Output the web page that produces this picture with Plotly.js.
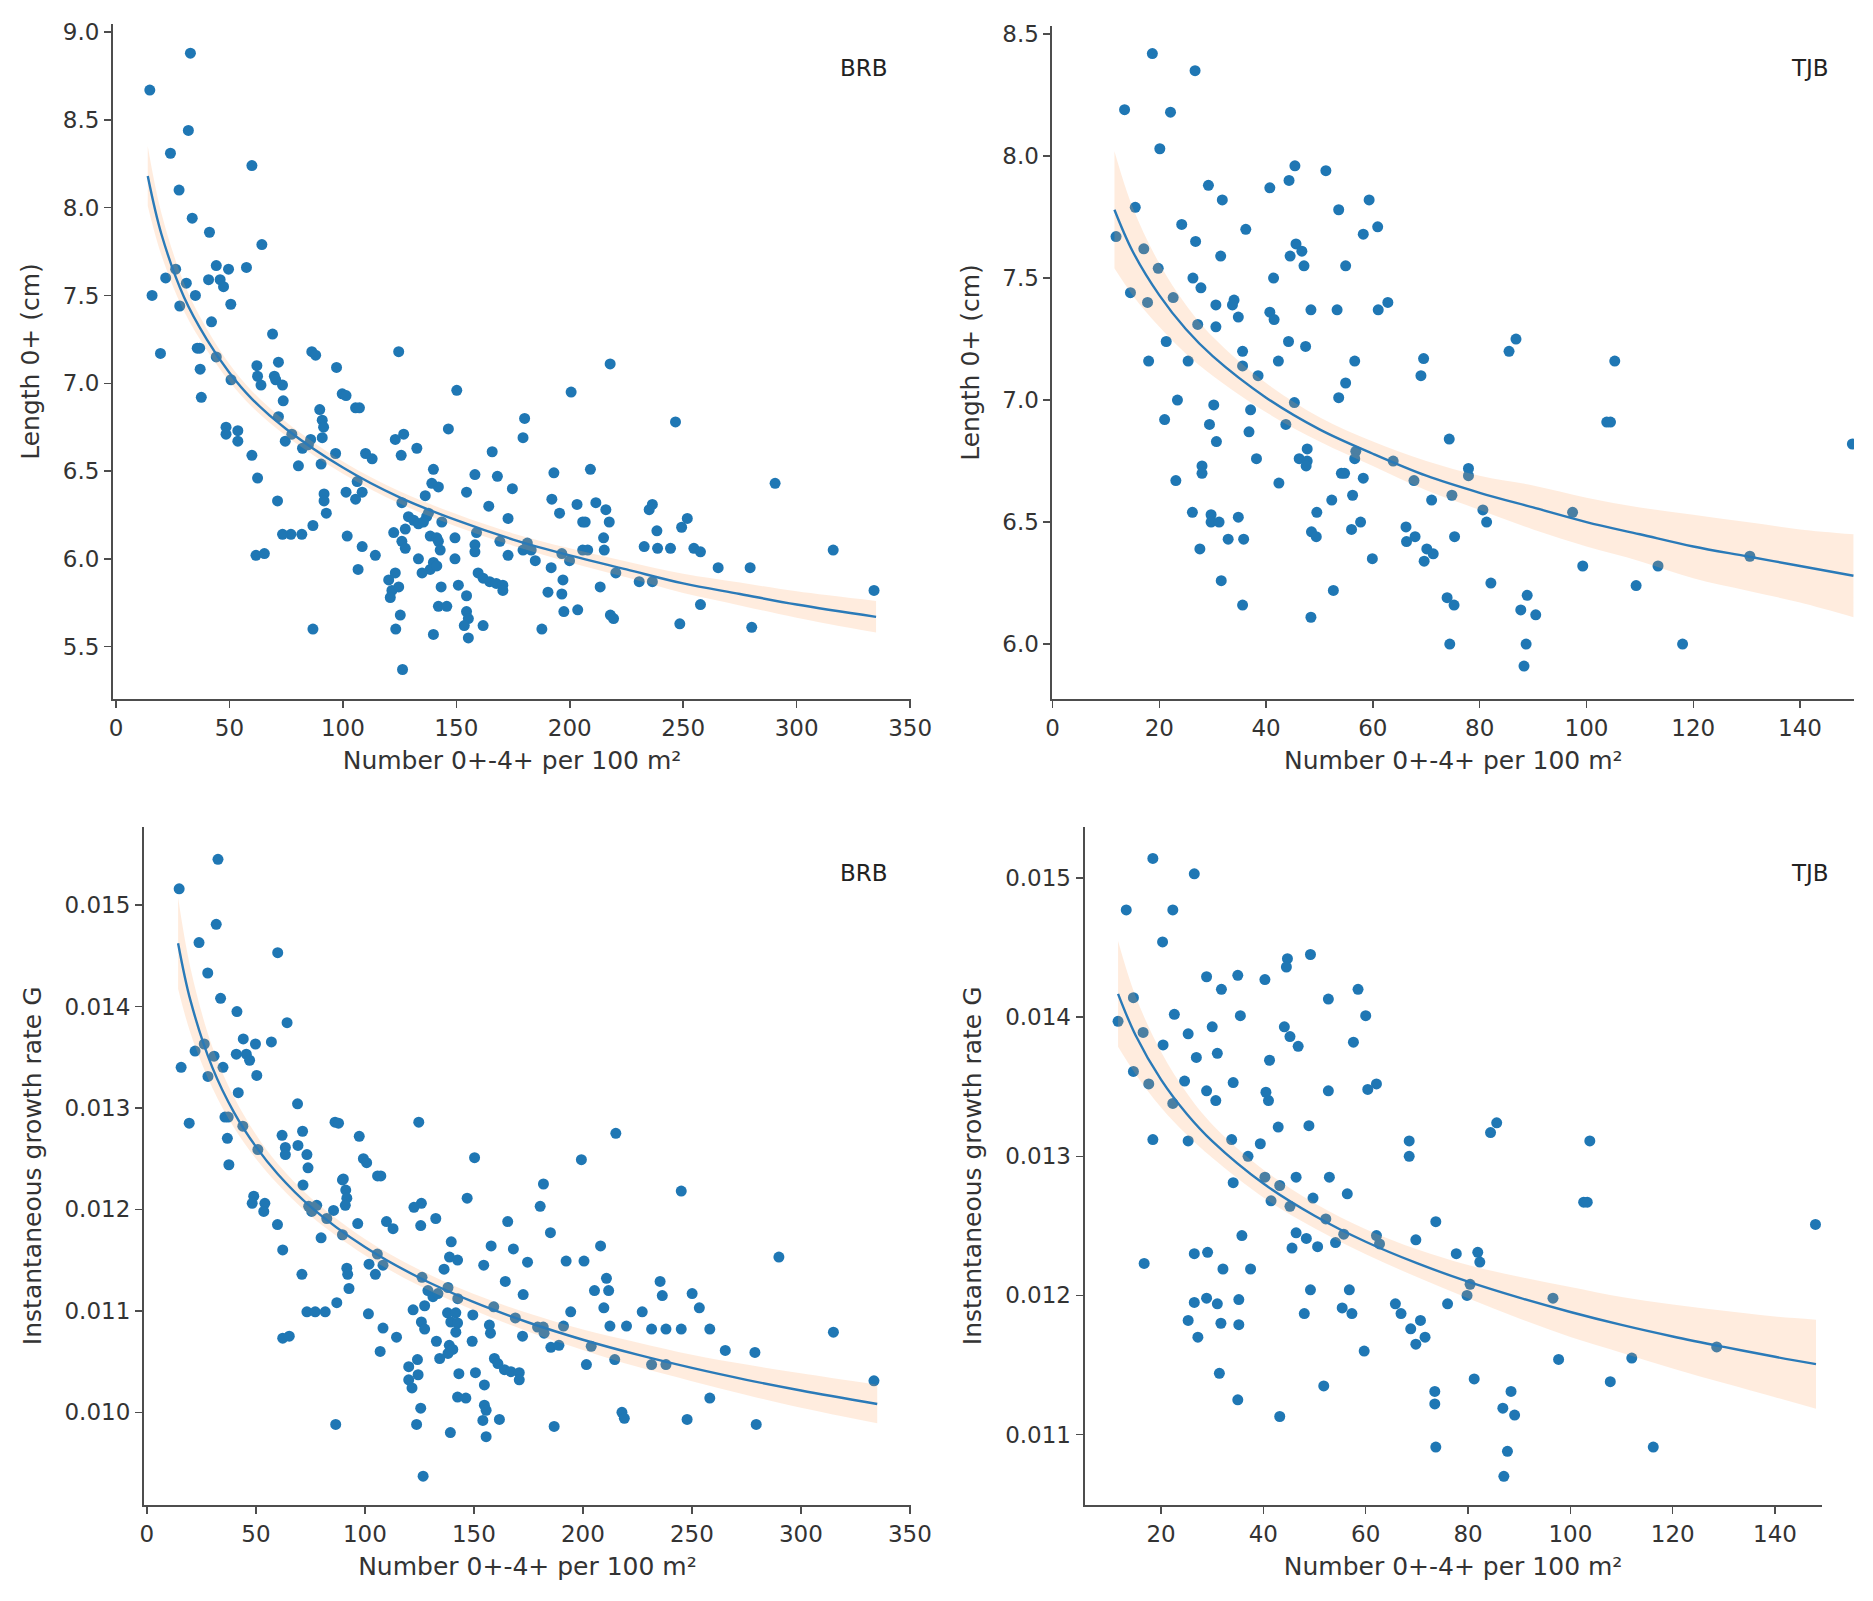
<!DOCTYPE html>
<html>
<head>
<meta charset="utf-8">
<script src="https://cdn.plot.ly/plotly-3.0.1.min.js"></script>
<style>
  html, body { margin: 0; padding: 0; background: #ffffff; }
  #chart { width: 1873px; height: 1601px; }
</style>
</head>
<body>
<div id="chart"></div>
<script>
// ---------------- Data ----------------
const panelLabels = ["BRB", "TJB", "BRB", "TJB"];
const xTitle = "Number 0+-4+ per 100 m²";
const yTitleLength = "Length 0+ (cm)";
const yTitleGrowth = "Instantaneous growth rate G";

// Panel 1: BRB, length 0+ (cm)
const brbLenX = [32.8,14.9,31.9,24.0,59.9,27.8,33.6,41.2,64.3,44.2,49.6,57.5,26.3,21.9,31.0,40.8,45.9,47.4,15.9,35.0,28.1,50.6,42.1,69.0,19.6,35.8,36.9,44.2,37.1,62.1,71.6,86.3,88.0,97.2,124.6,62.4,69.8,50.7,
63.9,70.4,73.4,73.7,37.6,99.7,101.4,105.6,107.3,150.2,89.8,90.9,91.5,90.9,71.6,48.5,48.5,53.7,53.7,77.5,74.6,85.8,82.2,84.8,59.9,80.4,90.4,96.8,62.4,71.2,91.7,91.7,92.7,101.4,105.6,108.5,106.3,110.0,112.9,123.1,126.8,125.7,132.6,139.9,139.2,142.1,136.3,158.2,154.5,146.5,165.8,168.1,174.7,164.3,172.8,180.1,179.4,126.0,128.9,131.2,133.3,136.9,135.5,137.7,127.5,143.6,122.4,126.0,127.5,101.9,108.5,114.3,106.7,86.8,81.9,77.1,73.4,61.7,65.4,86.8,138.5,141.4,142.1,142.9,149.4,149.4,133.3,139.9,138.5,134.9,141.4,158.2,158.2,158.9,169.2,172.8,179.4,159.6,161.8,164.7,167.6,170.5,170.5,120.2,121.6,123.1,124.6,120.9,125.3,123.3,126.3,143.3,142.1,145.8,139.9,150.9,154.5,154.5,155.3,153.5,155.3,161.8,
217.8,200.6,246.6,290.5,193.0,209.1,192.1,195.5,203.2,205.7,206.8,211.5,215.9,217.4,214.9,215.2,181.3,183.0,184.8,191.8,196.5,199.9,197.0,190.4,196.5,197.4,203.5,187.7,205.7,207.9,213.4,217.9,219.3,220.3,230.6,236.4,232.8,238.7,244.4,238.4,235.0,236.4,249.3,251.8,254.7,257.6,265.4,279.5,316.1,334.1,257.6,248.5,280.2];
const brbLenY = [8.88,8.67,8.44,8.31,8.24,8.10,7.94,7.86,7.79,7.67,7.65,7.66,7.65,7.60,7.57,7.59,7.59,7.55,7.50,7.50,7.44,7.45,7.35,7.28,7.17,7.20,7.20,7.15,7.08,7.10,7.12,7.18,7.16,7.09,7.18,7.04,7.04,7.02,
6.99,7.02,6.99,6.90,6.92,6.94,6.93,6.86,6.86,6.96,6.85,6.79,6.75,6.69,6.81,6.75,6.71,6.73,6.67,6.71,6.67,6.68,6.63,6.65,6.59,6.53,6.54,6.60,6.46,6.33,6.37,6.33,6.26,6.38,6.34,6.38,6.44,6.60,6.57,6.68,6.71,6.59,6.63,6.51,6.43,6.41,6.36,6.48,6.38,6.74,6.61,6.47,6.40,6.30,6.23,6.80,6.69,6.32,6.24,6.22,6.20,6.24,6.21,6.26,6.17,6.21,6.15,6.10,6.06,6.13,6.07,6.02,5.94,6.19,6.14,6.14,6.14,6.02,6.03,5.60,6.13,6.12,6.10,6.05,6.12,6.00,6.00,5.98,5.94,5.92,5.96,6.08,6.04,6.15,6.10,6.02,6.05,5.92,5.89,5.87,5.86,5.85,5.82,5.88,5.82,5.92,5.84,5.78,5.68,5.60,5.37,5.84,5.73,5.73,5.57,5.85,5.79,5.70,5.66,5.62,5.55,5.62,
7.11,6.95,6.78,6.43,6.49,6.51,6.34,6.26,6.31,6.21,6.21,6.32,6.28,6.21,6.12,6.05,6.09,6.05,5.99,5.95,6.03,5.99,5.88,5.81,5.80,5.70,5.71,5.60,6.05,6.05,5.84,5.68,5.66,5.92,5.87,5.87,6.07,6.06,6.06,6.16,6.28,6.31,6.18,6.23,6.06,6.04,5.95,5.95,6.05,5.82,5.74,5.63,5.61];
const brbLenFitX = [14,20,30,40,50,60,75,100,125,150,175,200,225,250,275,300,335];
const brbLenFit  = [8.18,7.85,7.49,7.25,7.06,6.91,6.74,6.52,6.35,6.22,6.11,6.02,5.94,5.86,5.80,5.74,5.67];
const brbLenHi   = [8.35,7.97,7.57,7.31,7.11,6.955,6.78,6.555,6.385,6.255,6.145,6.06,5.985,5.915,5.865,5.815,5.76];
const brbLenLo   = [8.01,7.73,7.41,7.19,7.01,6.865,6.70,6.485,6.315,6.185,6.075,5.98,5.895,5.805,5.735,5.665,5.58];

// Panel 2: TJB, length 0+ (cm)
const tjbLenX = [18.7,26.7,13.5,22.1,20.1,45.4,51.2,44.3,40.7,29.2,
31.8,59.3,53.6,15.5,60.9,58.2,24.2,36.2,11.9,26.8,
45.6,46.7,44.5,47.1,54.9,31.5,17.1,19.8,26.3,27.8,
41.4,14.6,17.8,22.6,30.6,34.0,33.7,34.8,40.7,41.5,
48.4,53.3,61.0,62.8,27.2,30.6,21.3,44.2,47.4,18.0,
25.4,35.6,35.6,42.3,56.6,69.5,38.5,69.0,
54.9,53.6,45.3,23.4,21.0,30.2,37.1,29.4,36.8,43.7,
30.7,38.2,74.3,47.7,46.2,47.7,47.5,28.0,28.0,23.1,
42.4,56.8,56.6,63.8,54.1,54.7,58.2,67.7,74.8,71.0,
77.9,77.9,52.3,56.2,49.5,26.2,29.7,29.7,31.2,34.8,
32.9,35.8,27.6,48.5,49.4,56.0,57.7,59.9,66.2,67.9,
66.3,70.1,71.3,69.6,75.3,31.6,35.6,52.6,48.4,73.9,
75.2,74.4,
86.8,85.5,105.3,103.8,104.5,149.8,80.6,81.3,97.4,99.3,
113.4,109.3,130.6,82.1,88.9,87.7,90.5,88.7,88.3,118.0];
const tjbLenY = [8.42,8.35,8.19,8.18,8.03,7.96,7.94,7.90,7.87,7.88,
7.82,7.82,7.78,7.79,7.71,7.68,7.72,7.70,7.67,7.65,
7.64,7.61,7.59,7.55,7.55,7.59,7.62,7.54,7.50,7.46,
7.50,7.44,7.40,7.42,7.39,7.41,7.39,7.34,7.36,7.33,
7.37,7.37,7.37,7.40,7.31,7.30,7.24,7.24,7.22,7.16,
7.16,7.20,7.14,7.16,7.16,7.17,7.10,7.10,
7.07,7.01,6.99,7.00,6.92,6.98,6.96,6.90,6.87,6.90,
6.83,6.76,6.84,6.80,6.76,6.75,6.73,6.73,6.70,6.67,
6.66,6.79,6.76,6.75,6.70,6.70,6.68,6.67,6.61,6.59,
6.72,6.69,6.59,6.61,6.54,6.54,6.53,6.50,6.50,6.52,
6.43,6.43,6.39,6.46,6.44,6.47,6.50,6.35,6.48,6.44,
6.42,6.39,6.37,6.34,6.44,6.26,6.16,6.22,6.11,6.19,
6.16,6.00,
7.25,7.20,7.16,6.91,6.91,6.82,6.55,6.50,6.54,6.32,
6.32,6.24,6.36,6.25,6.20,6.14,6.12,6.00,5.91,6.00];
const tjbLenFitX = [11.6,15,20,25,30,40,50,60,70,80,90,100,110,120,130,140,150];
const tjbLenFit  = [7.78,7.61,7.43,7.29,7.18,7.01,6.88,6.78,6.69,6.62,6.56,6.50,6.45,6.40,6.36,6.32,6.28];
const tjbLenHi   = [8.02,7.79,7.56,7.39,7.26,7.07,6.93,6.83,6.75,6.69,6.65,6.60,6.56,6.53,6.50,6.47,6.45];
const tjbLenLo   = [7.54,7.43,7.30,7.19,7.10,6.95,6.83,6.73,6.63,6.55,6.47,6.40,6.34,6.27,6.22,6.17,6.11];

// Panel 3: BRB, instantaneous growth rate G
const brbGX = [32.6,14.8,31.8,23.9,60.0,27.9,33.8,41.3,64.3,44.2,
49.8,57.1,26.3,22.1,30.8,41.0,45.6,47.1,15.7,34.9,
28.0,50.4,41.9,69.1,19.4,35.8,37.3,44.0,36.9,37.6,
50.9,62.0,63.5,63.5,69.3,71.4,73.4,73.9,86.3,87.9,
97.4,99.3,100.8,124.7,150.3,105.8,107.3,90.1,181.9,
71.6,49.0,48.3,54.1,53.6,59.9,62.3,71.1,74.2,77.9,
75.6,79.9,82.5,85.6,89.7,91.2,91.7,91.0,89.7,96.7,
109.9,112.9,91.7,92.1,92.7,101.9,105.7,108.3,104.8,87.1,
73.4,77.2,81.8,62.3,65.3,101.6,108.3,114.5,107.0,86.6,
125.9,122.5,125.6,132.5,146.9,165.5,157.9,168.1,154.5,174.6,
164.4,172.6,180.4,139.6,138.8,142.5,136.3,126.2,128.9,131.2,
133.5,138.1,142.6,127.4,122.1,125.9,127.4,137.9,141.7,139.4,
142.5,141.7,149.5,132.8,138.7,140.3,138.1,134.3,149.2,157.1,
157.6,159.1,169.0,172.3,179.2,182.2,185.3,181.8,159.4,161.0,
164.0,167.0,170.8,170.8,120.1,124.1,124.4,120.1,121.6,125.6,
123.7,126.7,143.1,150.7,142.5,146.3,139.2,154.8,154.8,155.6,
154.1,155.6,161.7,186.8,
215.1,199.3,185.1,192.3,200.5,208.1,210.8,211.8,205.3,194.4,
191.1,209.6,212.4,214.6,217.9,219.0,201.6,203.8,189.0,231.5,
238.1,245.1,235.4,236.4,250.1,253.4,231.5,238.1,245.1,258.2,
265.3,247.8,258.2,278.9,279.5,289.9,314.9,333.5,227.2,220.0];
const brbGY = [0.01545,0.01516,0.01481,0.01463,0.01453,0.01433,0.01408,0.01395,0.01384,0.01368,
0.01363,0.01365,0.01363,0.01356,0.01351,0.01353,0.01353,0.01347,0.01340,0.01340,
0.01331,0.01332,0.01315,0.01304,0.01285,0.01291,0.01291,0.01282,0.01270,0.01244,
0.01259,0.01273,0.01261,0.01254,0.01263,0.01277,0.01254,0.01241,0.01286,0.01285,
0.01272,0.01250,0.01246,0.01286,0.01251,0.01233,0.01233,0.01230,0.01225,
0.01224,0.01213,0.01206,0.01206,0.01198,0.01185,0.01160,0.01136,0.01203,0.01204,
0.01198,0.01172,0.01191,0.01199,0.01229,0.01219,0.01211,0.01204,0.01175,0.01186,
0.01188,0.01181,0.01142,0.01136,0.01122,0.01146,0.01156,0.01145,0.01136,0.01108,
0.01099,0.01099,0.01099,0.01073,0.01075,0.01097,0.01083,0.01074,0.01060,0.00988,
0.01206,0.01202,0.01184,0.01191,0.01211,0.01188,0.01164,0.01161,0.01145,0.01148,
0.01129,0.01116,0.01203,0.01168,0.01153,0.01150,0.01141,0.01133,0.01120,0.01114,
0.01117,0.01123,0.01112,0.01105,0.01101,0.01089,0.01082,0.01098,0.01098,0.01089,
0.01088,0.01079,0.01096,0.01070,0.01066,0.01062,0.01058,0.01053,0.01070,0.01086,
0.01078,0.01104,0.01093,0.01075,0.01084,0.01078,0.01064,0.01084,0.01053,0.01048,
0.01042,0.01040,0.01039,0.01032,0.01045,0.01052,0.01037,0.01032,0.01024,0.01004,
0.00988,0.00937,0.01038,0.01039,0.01015,0.01014,0.00980,0.01027,0.01007,0.01002,
0.00992,0.00976,0.00993,0.00986,
0.01275,0.01249,0.01177,0.01149,0.01149,0.01164,0.01132,0.01120,0.01120,0.01099,
0.01085,0.01103,0.01085,0.01052,0.01000,0.00994,0.01047,0.01065,0.01066,0.01082,
0.01082,0.01082,0.01129,0.01115,0.01117,0.01103,0.01047,0.01047,0.01218,0.01082,
0.01061,0.00993,0.01014,0.01059,0.00988,0.01153,0.01079,0.01031,0.01099,0.01085];
const brbGFitX = [14.3,20,30,40,50,60,75,100,125,150,175,200,225,250,275,300,335];
const brbGFit  = [0.014624,0.014057,0.013400,0.012954,0.012618,0.012349,0.012028,0.011629,0.011326,0.011085,0.010885,0.010715,0.010568,0.010437,0.010320,0.010215,0.010082];
const brbGHi   = [0.015074,0.014377,0.013600,0.013104,0.012738,0.012449,0.012118,0.011709,0.011406,0.011165,0.010975,0.010815,0.010688,0.010567,0.010470,0.010385,0.010272];
const brbGLo   = [0.014174,0.013737,0.013200,0.012804,0.012498,0.012249,0.011938,0.011549,0.011246,0.011005,0.010795,0.010615,0.010448,0.010307,0.010170,0.010045,0.009892];

// Panel 4: TJB, instantaneous growth rate G
const tjbGX = [18.4,26.5,13.2,22.3,20.3,35.0,49.2,44.7,44.5,40.3,
58.5,28.9,31.8,52.7,60.0,30.0,35.5,22.6,11.6,14.6,
16.5,20.4,25.3,26.9,44.1,45.2,46.8,41.2,31.0,57.6,
14.6,17.6,22.3,24.6,34.1,28.9,30.7,40.5,41.0,42.9,
52.7,60.4,62.1,48.9,18.4,25.3,33.8,39.4,37.0,40.3,
34.1,43.2,46.4,41.5,45.2,52.9,49.7,56.4,68.5,68.5,
84.4,85.6,103.8,102.6,103.3,81.9,82.3,80.4,73.7,69.8,
62.1,62.7,55.7,54.1,50.6,52.2,48.4,46.4,45.6,35.8,
29.1,26.5,16.7,32.1,37.5,56.8,55.4,49.2,48.0,57.3,
59.7,65.8,66.9,70.7,71.6,68.8,69.8,76.0,79.8,26.5,
28.9,31.0,35.2,25.3,27.2,31.7,35.2,31.4,35.0,43.2,
51.8,73.5,73.5,73.7,86.8,88.4,89.1,87.7,87.0,81.2,
96.6,97.7,107.8,112.0,116.2,128.6,147.9,77.7];
const tjbGY = [0.01514,0.01503,0.01477,0.01477,0.01454,0.01430,0.01445,0.01442,0.01436,0.01427,
0.01420,0.01429,0.01420,0.01413,0.01401,0.01393,0.01401,0.01402,0.01397,0.01414,
0.01389,0.01380,0.01388,0.01371,0.01393,0.01386,0.01379,0.01369,0.01374,0.01382,
0.01361,0.01352,0.01338,0.01354,0.01353,0.01347,0.01340,0.01346,0.01340,0.01321,
0.01347,0.01348,0.01352,0.01322,0.01312,0.01311,0.01312,0.01309,0.01300,0.01285,
0.01281,0.01279,0.01285,0.01268,0.01264,0.01285,0.01270,0.01273,0.01311,0.01300,
0.01317,0.01324,0.01311,0.01267,0.01267,0.01231,0.01224,0.01208,0.01253,0.01240,
0.01243,0.01237,0.01244,0.01238,0.01235,0.01255,0.01241,0.01245,0.01234,0.01243,
0.01231,0.01230,0.01223,0.01219,0.01219,0.01204,0.01191,0.01204,0.01187,0.01187,
0.01160,0.01194,0.01187,0.01182,0.01170,0.01176,0.01165,0.01194,0.01200,0.01195,
0.01198,0.01194,0.01197,0.01182,0.01170,0.01180,0.01179,0.01144,0.01125,0.01113,
0.01135,0.01131,0.01122,0.01091,0.01119,0.01131,0.01114,0.01088,0.01070,0.01140,
0.01198,0.01154,0.01138,0.01155,0.01091,0.01163,0.01251,0.01230];
const tjbGFitX = [11.6,15,20,25,30,40,50,60,70,80,90,100,110,120,130,140,148];
const tjbGFit  = [0.014167,0.013872,0.013551,0.013306,0.013109,0.012804,0.012573,0.012386,0.012232,0.012099,0.011984,0.011881,0.011788,0.011705,0.011630,0.011559,0.011506];
const tjbGHi   = [0.014547,0.014152,0.013751,0.013456,0.013229,0.012904,0.012663,0.012476,0.012332,0.012219,0.012134,0.012061,0.011988,0.011935,0.011890,0.011849,0.011826];
const tjbGLo   = [0.013787,0.013592,0.013351,0.013156,0.012989,0.012704,0.012483,0.012296,0.012132,0.011979,0.011834,0.011701,0.011588,0.011475,0.011370,0.011269,0.011186];

// ---------------- Styling ----------------
const FONT = "DejaVu Sans";
const pointColor = "#1f77b4";
const lineColor = "#2a7ab8";
const bandColor = "rgba(255,160,90,0.2)";
const axisColor = "#4d4d4d";
const textColor = "#333333";

function panelTraces(xa, ya, px, py, fx, fy, lo, hi) {
  return [
    {type: "scatter", mode: "markers", x: px, y: py, xaxis: xa, yaxis: ya,
     marker: {color: pointColor, size: 11, line: {width: 0}}, showlegend: false, hoverinfo: "x+y"},
    {type: "scatter", mode: "lines", x: fx, y: hi, xaxis: xa, yaxis: ya,
     line: {width: 0, shape: "spline", smoothing: 1}, showlegend: false, hoverinfo: "skip"},
    {type: "scatter", mode: "lines", x: fx, y: lo, xaxis: xa, yaxis: ya, fill: "tonexty", fillcolor: bandColor,
     line: {width: 0, shape: "spline", smoothing: 1}, showlegend: false, hoverinfo: "skip"},
    {type: "scatter", mode: "lines", x: fx, y: fy, xaxis: xa, yaxis: ya,
     line: {color: lineColor, width: 2.4, shape: "spline", smoothing: 1}, showlegend: false, hoverinfo: "x+y"}
  ];
}

const data = [].concat(
  panelTraces("x", "y", brbLenX, brbLenY, brbLenFitX, brbLenFit, brbLenLo, brbLenHi),
  panelTraces("x2", "y2", tjbLenX, tjbLenY, tjbLenFitX, tjbLenFit, tjbLenLo, tjbLenHi),
  panelTraces("x3", "y3", brbGX, brbGY, brbGFitX, brbGFit, brbGLo, brbGHi),
  panelTraces("x4", "y4", tjbGX, tjbGY, tjbGFitX, tjbGFit, tjbGLo, tjbGHi)
);

function axisBase(extra) {
  return Object.assign({
    showline: true, linecolor: axisColor, linewidth: 2,
    ticks: "outside", ticklen: 7, tickwidth: 1.5, tickcolor: axisColor,
    showgrid: false, zeroline: false, automargin: false,
    tickfont: {family: FONT, size: 23, color: textColor}
  }, extra);
}
function xTitleObj() { return {text: xTitle, font: {family: FONT, size: 25, color: textColor}, standoff: 12}; }
function yTitleObj(t) { return {text: t, font: {family: FONT, size: 25, color: textColor}, standoff: 16}; }

const layout = {
  width: 1873, height: 1601,
  margin: {l: 0, r: 0, t: 0, b: 0, pad: 0},
  paper_bgcolor: "#ffffff", plot_bgcolor: "#ffffff",
  showlegend: false,
  font: {family: FONT, color: textColor},
  xaxis:  axisBase({domain: [0.06033, 0.48639], range: [-1.32, 350.4], tick0: 0, dtick: 50, anchor: "y", title: xTitleObj()}),
  yaxis:  axisBase({domain: [0.56340, 0.98501], range: [5.202, 9.046], tick0: 0, dtick: 0.5, tickformat: ".1f", anchor: "x", title: yTitleObj(yTitleLength)}),
  xaxis2: axisBase({domain: [0.56193, 0.98985], range: [0, 150.1], tick0: 0, dtick: 20, anchor: "y2", title: xTitleObj()}),
  yaxis2: axisBase({domain: [0.56340, 0.98376], range: [5.775, 8.533], tick0: 0, dtick: 0.5, tickformat: ".1f", anchor: "x2", title: yTitleObj(yTitleLength)}),
  xaxis3: axisBase({domain: [0.07683, 0.48639], range: [-1.38, 350.5], tick0: 0, dtick: 50, anchor: "y3", title: xTitleObj()}),
  yaxis3: axisBase({domain: [0.05996, 0.48370], range: [0.009086, 0.015773], tick0: 0, dtick: 0.001, tickformat: ".3f", anchor: "x3", title: yTitleObj(yTitleGrowth)}),
  xaxis4: axisBase({domain: [0.57907, 0.97256], range: [5.06, 149.1], tick0: 0, dtick: 20, anchor: "y4", title: xTitleObj()}),
  yaxis4: axisBase({domain: [0.05996, 0.48370], range: [0.010494, 0.015369], tick0: 0, dtick: 0.001, tickformat: ".3f", anchor: "x4", title: yTitleObj(yTitleGrowth)}),
  annotations: [
    {text: panelLabels[0], xref: "paper", yref: "paper", x: 0.4613, y: 0.9575, xanchor: "center", yanchor: "middle", showarrow: false, font: {family: FONT, size: 23, color: "#222"}},
    {text: panelLabels[1], xref: "paper", yref: "paper", x: 0.9664, y: 0.9575, xanchor: "center", yanchor: "middle", showarrow: false, font: {family: FONT, size: 23, color: "#222"}},
    {text: panelLabels[2], xref: "paper", yref: "paper", x: 0.4613, y: 0.4547, xanchor: "center", yanchor: "middle", showarrow: false, font: {family: FONT, size: 23, color: "#222"}},
    {text: panelLabels[3], xref: "paper", yref: "paper", x: 0.9664, y: 0.4547, xanchor: "center", yanchor: "middle", showarrow: false, font: {family: FONT, size: 23, color: "#222"}}
  ]
};

Plotly.newPlot("chart", data, layout, {staticPlot: true, displayModeBar: false});
</script>
</body>
</html>
